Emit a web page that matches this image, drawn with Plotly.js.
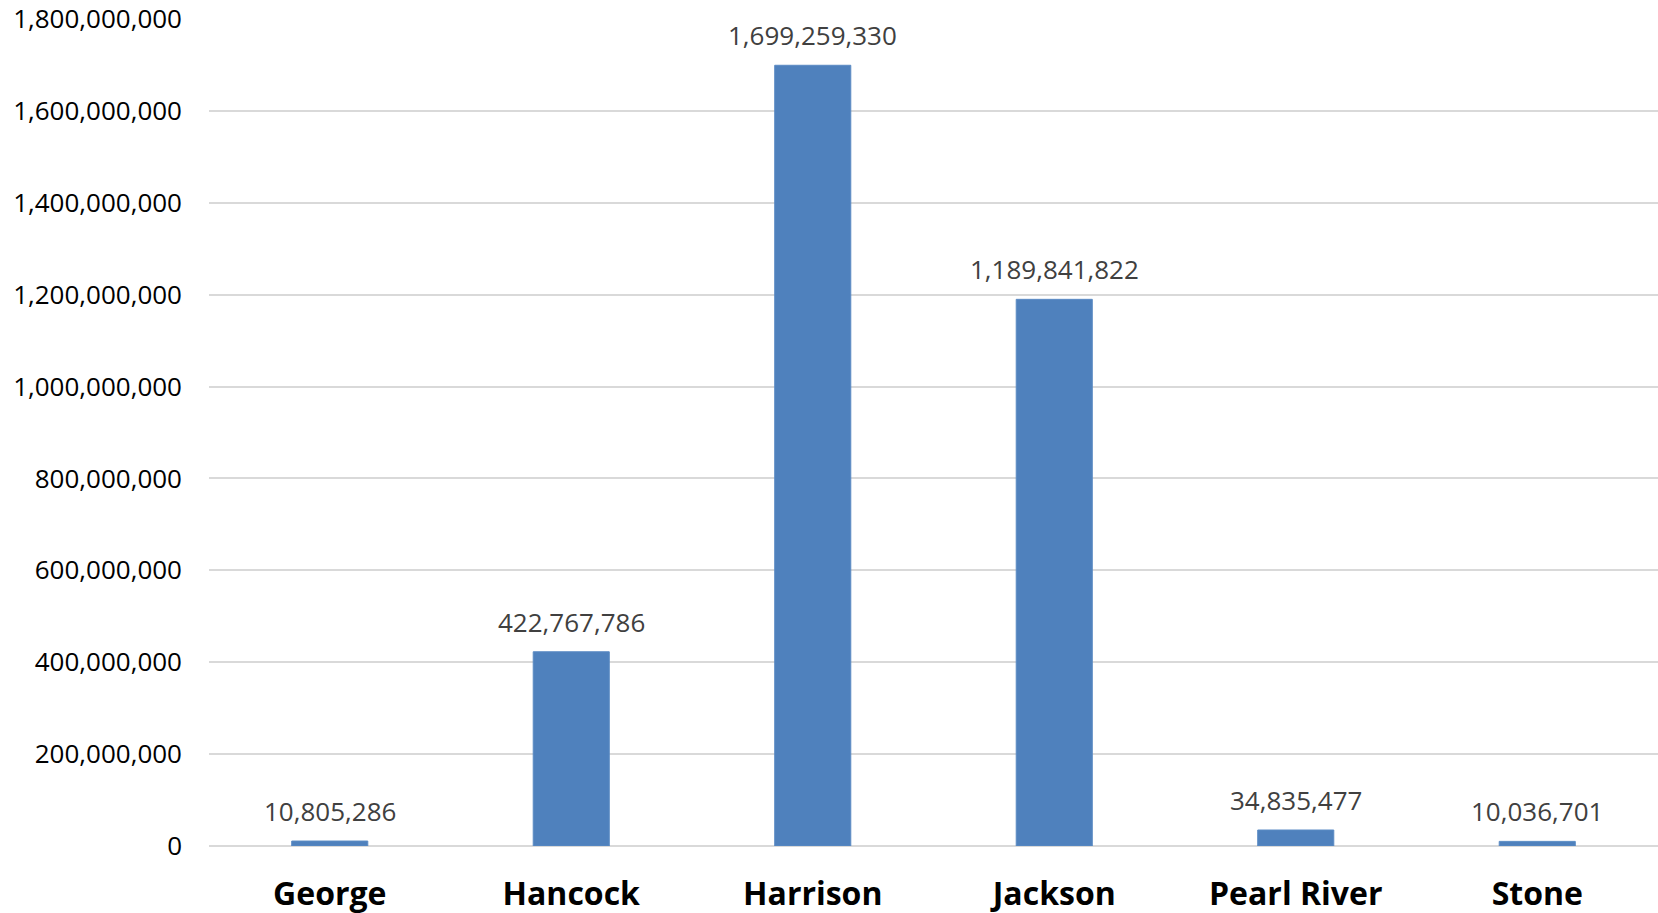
<!DOCTYPE html>
<html>
<head>
<meta charset="utf-8">
<script src="https://cdn.plot.ly/plotly-3.0.1.min.js"></script>
<style>html,body{margin:0;padding:0;background:#fff;}#chart{width:1658px;height:913px;}</style>
</head>
<body>
<div id="chart"></div>
<script>
const categories = ["George", "Hancock", "Harrison", "Jackson", "Pearl River", "Stone"];
const values = [10805286, 422767786, 1699259330, 1189841822, 34835477, 10036701];
const tickValues = [0, 200000000, 400000000, 600000000, 800000000, 1000000000, 1200000000, 1400000000, 1600000000, 1800000000];
const tickLabels = ["0", "200,000,000", "400,000,000", "600,000,000", "800,000,000", "1,000,000,000", "1,200,000,000", "1,400,000,000", "1,600,000,000", "1,800,000,000"];

const fmt = v => v.toLocaleString('en-US');

const trace = {
  type: 'bar',
  x: categories,
  y: values,
  marker: {color: '#4f81bd', line: {color: '#5b8bc4', width: 1}},
  hoverinfo: 'skip'
};

const annotations = categories.map((c, i) => ({
  x: c, y: values[i], xref: 'x', yref: 'y',
  text: fmt(values[i]), showarrow: false,
  yanchor: 'bottom', yshift: 10,
  font: {family: 'Open Sans, sans-serif', size: 26, color: '#404040'}
}));

const layout = {
  width: 1658, height: 913,
  margin: {l: 209, r: 0, t: 19, b: 67, pad: 0},
  paper_bgcolor: '#ffffff', plot_bgcolor: '#ffffff',
  showlegend: false,
  bargap: 0.685,
  xaxis: {
    type: 'category',
    showgrid: false, showline: false, zeroline: false, ticks: '',
    ticklabelstandoff: 26,
    tickfont: {family: 'Open Sans, sans-serif', size: 32, color: '#000000', weight: 'bold'}
  },
  yaxis: {
    range: [0, 1800000000],
    tickvals: tickValues, ticktext: tickLabels,
    showgrid: true, gridcolor: '#d9d9d9', gridwidth: 2,
    zeroline: true, zerolinecolor: '#d9d9d9', zerolinewidth: 2,
    showline: false, ticks: '',
    ticklabelstandoff: 26,
    tickfont: {family: 'Open Sans, sans-serif', size: 26, color: '#000000'}
  },
  annotations: annotations
};

Plotly.newPlot('chart', [trace], layout, {displayModeBar: false, staticPlot: true});
</script>
</body>
</html>
